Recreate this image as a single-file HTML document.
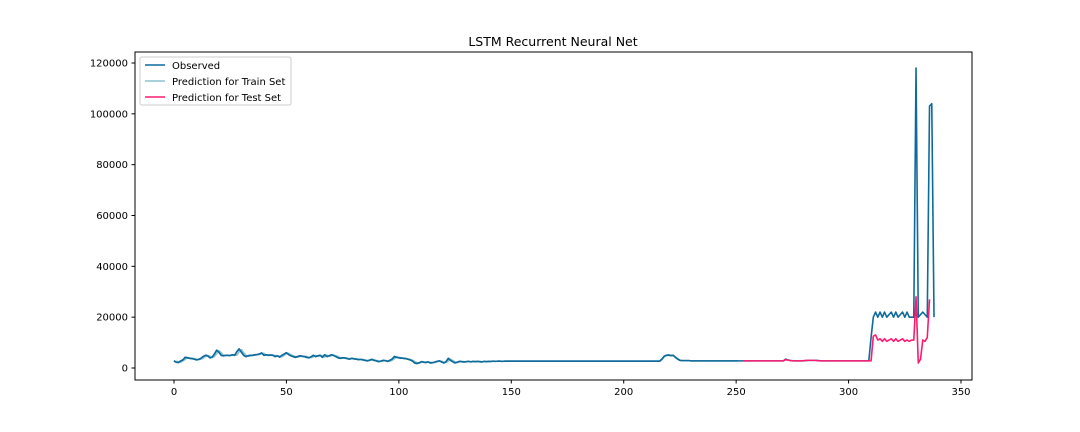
<!DOCTYPE html>
<html><head><meta charset="utf-8"><style>
body{margin:0;background:#fff;}
svg{display:block;font-family:"DejaVu Sans","Liberation Sans",sans-serif;}
</style></head><body>
<svg id="chart" width="1080" height="432">
<rect x="0" y="0" width="1080" height="432" fill="#fff"/>
<text x="553" y="46" text-anchor="middle" font-size="12.5">LSTM Recurrent Neural Net</text>
<g id="ticks"></g>
<g id="series"></g>
<rect x="135" y="52" width="837" height="328" fill="none" stroke="#000" stroke-width="1"/>
<g>
<rect x="140" y="57" width="151" height="48" rx="2" fill="#fff" stroke="#ccc"/>
<line x1="145" y1="65" x2="165" y2="65" stroke="#0f6a9b" stroke-width="1.6"/>
<text x="172" y="69" font-size="10">Observed</text>
<line x1="145" y1="81" x2="165" y2="81" stroke="#8cc4cf" stroke-width="1.6"/>
<text x="172" y="85" font-size="10">Prediction for Train Set</text>
<line x1="145" y1="97" x2="165" y2="97" stroke="#ff1a70" stroke-width="1.6"/>
<text x="172" y="101" font-size="10">Prediction for Test Set</text>
</g>
</svg>
<script>
const xTicks=[0,50,100,150,200,250,300,350];
const yTicks=[0,20000,40000,60000,80000,100000,120000];
// values in thousands
const observed=[2.8,2.3,2.2,2.8,3.2,4.2,4.0,3.8,3.7,3.5,
3.2,3.4,3.8,4.5,5.0,4.8,4.0,4.3,5.5,7.0,
6.2,5.0,4.8,5.0,5.0,4.9,5.2,5.0,6.5,7.5,
6.2,5.0,4.5,4.8,5.0,5.0,5.2,5.3,5.5,5.9,
5.0,5.2,5.0,5.1,5.0,4.5,4.8,4.3,5.0,5.5,
6.0,5.3,4.8,4.5,4.2,4.5,4.8,4.6,4.5,4.2,
4.0,4.4,5.0,4.5,4.8,5.0,4.2,5.2,4.5,4.8,
5.2,4.9,4.5,4.0,3.8,4.0,4.0,3.7,3.5,3.8,
3.6,3.5,3.3,3.4,3.2,3.0,2.8,3.1,3.4,3.0,
2.8,2.5,2.7,3.0,2.9,2.6,3.0,3.5,4.5,4.2,
4.0,3.9,3.8,3.7,3.5,3.2,2.8,2.0,1.8,2.0,
2.5,2.3,2.2,2.4,2.0,2.1,2.3,2.6,2.8,2.4,
2.0,2.5,3.8,3.0,2.5,2.0,2.3,2.6,2.5,2.4,
2.5,2.6,2.4,2.6,2.5,2.6,2.5,2.4,2.6,2.5,
2.6,2.6,2.7,2.6,2.7,2.7,2.6,2.7,2.7,2.7,
2.7,2.7,2.7,2.7,2.7,2.7,2.7,2.7,2.7,2.7,
2.7,2.7,2.7,2.7,2.7,2.7,2.7,2.7,2.7,2.7,
2.7,2.7,2.7,2.7,2.7,2.7,2.7,2.7,2.7,2.7,
2.7,2.7,2.7,2.7,2.7,2.7,2.7,2.7,2.7,2.7,
2.7,2.7,2.7,2.7,2.7,2.7,2.7,2.7,2.7,2.7,
2.7,2.7,2.7,2.7,2.7,2.7,2.7,2.7,2.7,2.7,
2.7,2.7,2.7,2.7,2.7,2.7,2.7,3.5,4.6,5.0,
5.1,4.9,5.0,4.2,3.5,3.0,2.9,2.9,2.9,2.9,
2.8,2.8,2.8,2.8,2.8,2.8,2.8,2.8,2.8,2.8,
2.8,2.8,2.8,2.8,2.8,2.8,2.8,2.8,2.8,2.8,
2.8,2.8,2.8,2.8,2.8,2.8,2.8,2.8,2.8,2.8,
2.8,2.8,2.8,2.8,2.8,2.8,2.8,2.8,2.8,2.8,
2.8,2.8,3.5,3.2,3.0,2.9,2.8,2.8,2.8,2.8,
2.8,2.9,3.0,3.0,3.0,3.0,3.0,2.9,2.8,2.8,
2.8,2.8,2.8,2.8,2.8,2.8,2.8,2.8,2.8,2.8,
2.8,2.8,2.8,2.8,2.8,2.8,2.8,2.8,2.8,2.8,
12,20,22,20,22,20,22,20,21,22,
20,22,20,21,22,20,22,20,20,20,
118,20,21,22,21,20,103,104,20];
const trainStart=1;
const trainPred=[2.7,2.4,2.3,2.8,3.4,4.1,3.9,3.8,3.7,3.5,
3.3,3.5,3.9,4.5,4.9,4.6,4.1,4.5,5.6,6.8,
6.0,5.0,4.9,5.0,5.0,5.0,5.1,5.1,6.4,7.2,
6.0,5.0,4.6,4.8,5.0,5.0,5.2,5.3,5.6,5.8,
5.0,5.2,5.0,5.1,4.9,4.6,4.7,4.4,5.0,5.6,
5.8,5.2,4.8,4.5,4.3,4.5,4.7,4.6,4.5,4.2,
4.1,4.4,4.9,4.6,4.8,4.9,4.3,5.1,4.6,4.8,
5.1,4.8,4.5,4.0,3.9,4.0,3.9,3.7,3.6,3.7,
3.6,3.5,3.4,3.4,3.2,3.0,2.9,3.1,3.3,3.0,
2.8,2.6,2.7,2.9,2.9,2.7,3.0,3.6,4.4,4.2,
4.0,3.9,3.8,3.6,3.4,3.1,2.6,2.1,2.0,2.2,
2.4,2.3,2.3,2.3,2.1,2.2,2.4,2.6,2.7,2.3,
2.2,2.7,3.5,2.9,2.4,2.1,2.4,2.6,2.5,2.5,
2.5,2.5,2.5,2.6,2.5,2.6,2.5,2.5,2.6,2.5,
2.6,2.6,2.7,2.6,2.7,2.7,2.6,2.7,2.7,2.7,
2.7,2.7,2.7,2.7,2.7,2.7,2.7,2.7,2.7,2.7,
2.7,2.7,2.7,2.7,2.7,2.7,2.7,2.7,2.7,2.7,
2.7,2.7,2.7,2.7,2.7,2.7,2.7,2.7,2.7,2.7,
2.7,2.7,2.7,2.7,2.7,2.7,2.7,2.7,2.7,2.7,
2.7,2.7,2.7,2.7,2.7,2.7,2.7,2.7,2.7,2.7,
2.7,2.7,2.7,2.7,2.7,2.7,2.7,2.7,2.7,2.7,
2.7,2.7,2.7,2.7,2.7,2.7,3.3,4.4,4.9,5.0,
4.9,4.9,4.4,3.7,3.1,2.9,2.9,2.9,2.9,2.8,
2.8,2.8,2.8,2.8,2.8,2.8,2.8,2.8,2.8,2.8,
2.8,2.8,2.8,2.8,2.8,2.8,2.8,2.8,2.8,2.8,
2.8];
const testStart=253;
const testPred=[2.8,2.8,2.8,2.8,2.8,2.8,2.8,2.8,2.8,2.8,
2.8,2.8,2.8,2.8,2.8,2.8,2.8,2.8,2.8,3.3,
3.1,2.9,2.8,2.8,2.8,2.8,2.8,2.9,3.0,3.0,
3.0,3.0,3.0,2.9,2.8,2.8,2.8,2.8,2.8,2.8,
2.8,2.8,2.8,2.8,2.8,2.8,2.8,2.8,2.8,2.8,
2.8,2.8,2.8,2.8,2.8,2.8,2.8,2.8,12.5,13,
11,11.5,10.5,11.5,10.5,11,11.5,10.5,11.5,10.5,11,11.5,10.5,11,10.5,11,
11,28,2,3.5,11,10.5,12,27];
const X0=174,XS=787/350,Y0=368,YS=305/120000;
const xp=v=>X0+v*XS, yp=v=>Y0-v*YS;
const NS='http://www.w3.org/2000/svg';
const tg=document.getElementById('ticks'), sg=document.getElementById('series');
function mk(tag,attrs,parent){const e=document.createElementNS(NS,tag);for(const k in attrs)e.setAttribute(k,attrs[k]);parent.appendChild(e);return e;}
xTicks.forEach(t=>{
 const l=mk('line',{x1:xp(t),x2:xp(t),y1:380,y2:383.5,stroke:'#000'},tg);
 
 
 const tx=mk('text',{x:xp(t),y:395,'text-anchor':'middle','font-size':'10'},tg);
 tx.textContent=t;
 
 
});
yTicks.forEach(t=>{
 const l=mk('line',{x1:131.5,x2:135,y1:yp(t),y2:yp(t),stroke:'#000'},tg);
 
 
 const tx=mk('text',{x:128,y:yp(t)+3.5,'text-anchor':'end','font-size':'10'},tg);
 tx.textContent=t;
 
 
});
function line(arr,start,color,name){
 const d=arr.map((v,i)=>(i?'L':'M')+xp(start+i).toFixed(2)+','+yp(v*1000).toFixed(2)).join('');
 const p=mk('path',{d:d,fill:'none',stroke:color,'stroke-width':'1.6','stroke-linejoin':'round'},sg);
 
 
}
line(observed,0,'#0f6a9b','observed-line');
line(trainPred,trainStart,'#8cc4cf','train-prediction-line');
line(observed.slice(0,trainStart+trainPred.length),0,'#0f6a9b','observed-line-overlay');
line(testPred,testStart,'#ff1a70','test-prediction-line');
</script>
</body></html>
